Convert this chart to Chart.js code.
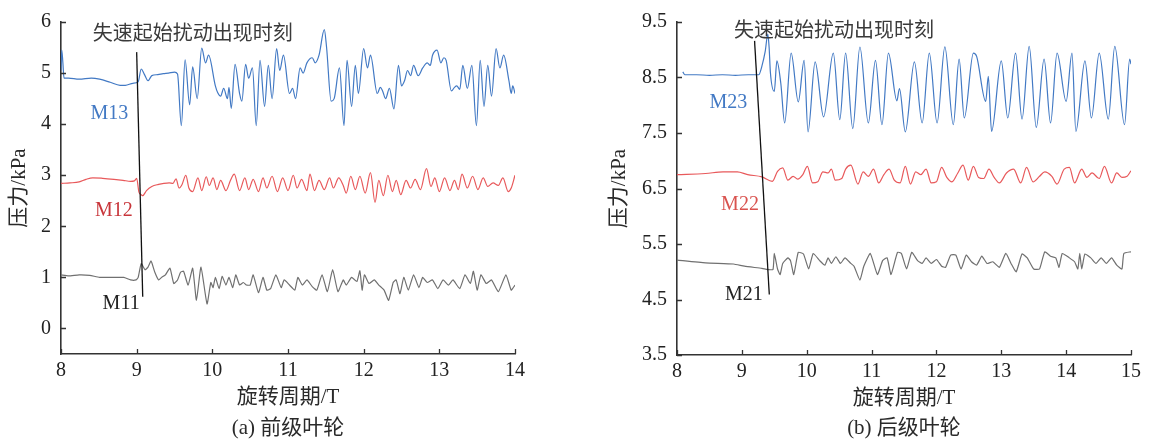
<!DOCTYPE html>
<html><head><meta charset="utf-8">
<script src="https://cdn.jsdelivr.net/npm/chart.js@4.4.0/dist/chart.umd.min.js"></script>
<style>
html,body{margin:0;padding:0;background:#fff;width:1149px;height:441px;overflow:hidden;}
#wrap{position:relative;width:1149px;height:441px;}
canvas{position:absolute;top:0;}
.cap{position:absolute;font:21px "Liberation Serif","Noto Sans CJK SC",serif;color:#2a2a2a;white-space:nowrap;transform:translate(-50%,-50%);}
</style></head><body>
<div id="wrap">
<canvas id="c1" width="575" height="441" style="left:0;width:575px;height:441px"></canvas>
<canvas id="c2" width="549" height="441" style="left:600px;width:549px;height:441px"></canvas>
<div class="cap" style="left:288px;top:425px">(a) 前级叶轮</div>
<div class="cap" style="left:904px;top:425px">(b) 后级叶轮</div>
</div>
<script>
// ---------- Panel (a) front impeller ----------
const aXTicks = [8, 9, 10, 11, 12, 13, 14];
const aYTicks = [0, 1, 2, 3, 4, 5, 6];

const m13X = [8.00,8.01,8.025,8.04,8.10,8.24,8.40,8.51,8.65,8.78,8.85,8.95,9.02,9.06,9.10,9.15,9.20,9.28,9.35,9.42,9.50,9.54,9.59,9.64,9.70,9.74,9.80,9.86,9.91,9.95,10.04,10.07,10.11,10.15,10.20,10.22,10.25,10.30,10.36,10.39,10.44,10.48,10.53,10.58,10.63,10.69,10.74,10.79,10.85,10.89,10.94,11.02,11.06,11.10,11.16,11.20,11.25,11.32,11.36,11.41,11.48,11.51,11.57,11.61,11.68,11.74,11.78,11.84,11.89,11.93,12.00,12.05,12.09,12.18,12.22,12.25,12.29,12.34,12.40,12.46,12.50,12.54,12.58,12.62,12.66,12.72,12.78,12.84,12.88,12.91,12.97,13.02,13.06,13.09,13.16,13.20,13.23,13.27,13.31,13.37,13.43,13.49,13.54,13.59,13.64,13.69,13.75,13.80,13.85,13.92,13.95,13.97,14.00];
const m13Y = [5.05,5.45,5.2,4.9,4.9,4.88,4.9,4.88,4.82,4.76,4.76,4.8,4.83,5.08,4.98,4.85,4.95,4.97,4.99,5.0,5.02,4.98,3.97,5.26,4.38,5.12,4.5,5.49,5.2,5.35,4.75,4.62,4.55,4.7,4.5,4.72,4.31,5.17,4.6,4.45,5.17,4.9,5.1,3.97,5.25,4.35,5.15,4.5,5.48,5.05,5.35,4.6,4.7,4.5,5.1,5.0,5.2,5.3,5.2,5.35,5.85,5.5,4.45,4.5,5.1,3.97,5.25,4.35,5.15,4.6,5.48,5.1,5.35,4.6,4.72,4.65,4.5,4.7,4.3,5.15,4.75,4.85,5.05,4.95,5.15,4.95,5.1,5.2,5.15,5.35,5.45,5.2,5.3,5.25,4.65,4.72,4.75,4.68,5.15,4.7,5.15,3.97,5.25,4.35,5.15,4.55,5.48,5.1,5.35,4.85,4.6,4.75,4.6];

const m12X = [8.00,8.12,8.24,8.33,8.42,8.55,8.70,8.82,8.92,8.97,9.00,9.03,9.06,9.08,9.13,9.20,9.29,9.36,9.43,9.48,9.52,9.56,9.60,9.65,9.69,9.74,9.81,9.86,9.92,9.96,10.01,10.06,10.11,10.18,10.24,10.29,10.36,10.43,10.48,10.54,10.61,10.67,10.72,10.79,10.86,10.93,11.00,11.07,11.12,11.18,11.25,11.29,11.35,11.41,11.48,11.55,11.60,11.67,11.73,11.77,11.83,11.89,11.95,12.02,12.09,12.15,12.20,12.26,12.32,12.38,12.43,12.49,12.56,12.62,12.68,12.75,12.83,12.89,12.94,13.00,13.07,13.14,13.20,13.25,13.30,13.37,13.44,13.51,13.58,13.64,13.71,13.78,13.84,13.91,13.95,14.00];
const m12Y = [2.84,2.85,2.87,2.92,2.95,2.94,2.92,2.9,2.88,2.89,2.94,2.67,2.62,2.6,2.7,2.78,2.82,2.84,2.85,2.84,2.93,2.75,2.82,3.0,2.75,2.68,2.95,2.7,2.97,2.8,2.95,2.72,2.9,2.7,2.9,3.02,2.7,2.95,2.72,2.92,2.68,2.95,2.75,2.98,2.68,2.95,2.7,3.0,2.75,2.92,2.7,3.02,2.7,2.9,2.72,2.95,2.75,2.95,2.8,2.65,2.98,2.72,2.98,2.65,3.05,2.47,2.9,2.6,3.0,2.68,2.9,2.62,2.9,2.75,2.92,2.72,3.13,2.78,2.95,2.68,2.95,2.7,2.9,2.72,3.02,2.75,2.98,2.72,2.95,2.78,2.85,2.8,2.95,2.68,2.75,3.0];

const m11X = [8.00,8.10,8.24,8.38,8.51,8.70,8.83,8.92,8.99,9.02,9.06,9.11,9.15,9.19,9.24,9.29,9.33,9.38,9.44,9.49,9.54,9.58,9.62,9.68,9.74,9.79,9.85,9.93,9.98,10.01,10.04,10.09,10.13,10.18,10.22,10.27,10.31,10.36,10.41,10.45,10.50,10.54,10.61,10.67,10.72,10.77,10.84,10.91,10.95,11.02,11.09,11.13,11.19,11.25,11.32,11.38,11.45,11.52,11.59,11.66,11.73,11.77,11.84,11.91,11.95,11.98,12.01,12.07,12.14,12.20,12.27,12.33,12.39,12.43,12.48,12.53,12.59,12.66,12.73,12.78,12.84,12.91,12.98,13.05,13.12,13.18,13.27,13.34,13.41,13.45,13.50,13.55,13.62,13.69,13.78,13.88,13.95,14.00];
const m11Y = [1.05,1.03,1.05,1.04,1.0,1.0,1.0,0.95,0.95,1.0,1.27,1.15,1.2,1.32,1.1,0.95,1.0,1.05,1.18,0.88,0.95,1.1,1.12,0.85,1.18,0.55,1.2,0.48,0.9,0.8,1.0,0.78,1.02,0.85,1.0,0.8,1.05,0.85,0.9,0.85,0.85,1.05,0.7,1.0,0.75,0.78,1.05,0.8,0.95,0.85,0.75,1.0,0.85,0.95,0.82,0.75,1.05,0.72,1.15,0.72,0.95,0.85,1.0,0.92,1.13,0.75,1.05,0.88,0.95,0.85,0.75,0.55,0.9,0.95,0.68,1.0,0.75,1.05,0.8,1.0,0.9,0.95,0.78,0.95,0.85,0.95,0.78,1.05,0.88,1.12,0.75,1.05,0.88,0.95,0.72,1.05,0.75,0.85];

// ---------- Panel (b) rear impeller ----------
const bXTicks = [8, 9, 10, 11, 12, 13, 14, 15];
const bYTicks = [3.5, 4.5, 5.5, 6.5, 7.5, 8.5, 9.5];

const m23X = [8.09,8.12,8.30,8.50,8.70,8.90,9.10,9.26,9.31,9.36,9.40,9.42,9.44,9.50,9.54,9.60,9.66,9.76,9.87,9.96,10.02,10.13,10.26,10.41,10.51,10.60,10.71,10.82,10.95,11.06,11.16,11.26,11.39,11.43,11.52,11.66,11.78,11.89,12.01,12.13,12.26,12.35,12.43,12.57,12.62,12.76,12.80,12.85,13.00,13.10,13.22,13.32,13.43,13.54,13.66,13.76,13.86,14.00,14.09,14.15,14.29,14.39,14.51,14.65,14.75,14.90,14.98,15.00];
const m23Y = [8.60,8.55,8.55,8.54,8.55,8.54,8.55,8.55,8.71,8.97,9.28,9.05,8.59,8.25,8.8,8.4,7.68,8.94,8.06,8.81,7.52,8.78,7.79,8.94,7.74,8.94,7.58,9.05,7.68,8.81,7.65,8.94,8.08,8.3,7.52,8.78,7.68,8.94,7.68,9.05,7.65,8.83,7.77,8.94,8.88,8.07,8.52,7.53,8.80,7.77,8.94,7.75,9.06,7.60,8.83,7.68,8.94,8.07,8.94,7.53,8.80,7.77,8.94,7.75,9.06,7.65,8.83,8.74];

const m22X = [8.00,8.44,8.71,8.93,9.09,9.31,9.47,9.55,9.63,9.71,9.79,9.86,9.94,10.01,10.09,10.17,10.25,10.33,10.38,10.44,10.54,10.60,10.68,10.79,10.87,10.95,11.03,11.11,11.19,11.27,11.35,11.44,11.52,11.60,11.68,11.76,11.84,11.92,12.00,12.08,12.16,12.24,12.33,12.41,12.49,12.57,12.65,12.73,12.81,12.89,12.97,13.08,13.19,13.30,13.39,13.49,13.59,13.67,13.78,13.86,13.97,14.05,14.13,14.24,14.32,14.40,14.51,14.59,14.70,14.78,14.86,14.94,15.00];
const m22Y = [6.75,6.77,6.80,6.80,6.75,6.71,6.63,6.81,6.87,6.65,6.72,6.67,6.75,6.9,6.6,6.62,6.8,6.78,6.85,6.65,6.68,6.85,6.92,6.58,6.8,6.72,6.85,6.6,6.75,6.85,6.65,6.6,6.9,6.58,6.8,6.75,6.85,6.6,6.62,6.88,6.7,6.62,6.78,6.92,6.65,6.9,6.7,6.68,6.85,6.7,6.6,6.78,6.85,6.6,6.88,6.62,6.72,6.8,6.72,6.58,6.85,6.88,6.6,6.85,6.7,6.78,6.68,6.9,6.6,6.78,6.7,6.72,6.82];

const m21X = [8.00,8.44,8.87,9.04,9.31,9.40,9.48,9.50,9.55,9.59,9.63,9.71,9.75,9.80,9.87,9.95,10.03,10.10,10.20,10.28,10.33,10.38,10.45,10.52,10.59,10.68,10.73,10.82,10.88,10.98,11.09,11.17,11.24,11.30,11.40,11.46,11.54,11.62,11.71,11.78,11.84,11.92,12.00,12.08,12.14,12.22,12.30,12.38,12.46,12.54,12.62,12.70,12.78,12.87,12.97,13.07,13.15,13.23,13.32,13.40,13.50,13.59,13.67,13.76,13.84,13.89,13.94,14.05,14.13,14.18,14.21,14.24,14.29,14.38,14.46,14.54,14.62,14.70,14.78,14.86,14.89,15.00];
const m21Y = [5.21,5.16,5.14,5.10,5.06,5.04,5.04,5.33,5.05,4.95,5.15,5.25,5.2,4.95,5.35,5.32,5.05,5.33,5.2,5.12,5.25,5.15,5.27,5.15,5.25,5.15,5.1,4.85,5.1,5.33,4.95,5.2,5.25,4.95,5.35,5.33,5.05,5.35,5.2,5.15,5.25,5.15,5.22,5.1,5.08,5.3,5.3,5.05,5.3,5.18,5.12,5.28,5.15,5.18,5.08,5.33,5.15,5.0,5.32,5.25,5.05,5.05,5.36,5.28,5.25,5.08,5.33,5.25,5.18,5.05,5.33,5.05,5.32,5.25,5.15,5.25,5.15,5.25,5.12,5.05,5.33,5.36];

// ---------- helpers ----------
const BLUE = '#4279c4', RED = '#e8595b', GRAY = '#707070';
const SERIF = "'Liberation Serif', 'Noto Sans CJK SC', serif";
const pts = (xs, ys) => xs.map((x, i) => ({x: x, y: ys[i]}));

const decor = {
  id: 'decor',
  afterDraw(chart, args, o) {
    const ctx = chart.ctx, xs = chart.scales.x, ys = chart.scales.y;
    ctx.save();
    ctx.strokeStyle = '#333'; ctx.lineWidth = 1.3;
    ctx.beginPath();
    o.xTicks.forEach(v => { const p = Math.round(xs.getPixelForValue(v)) + 0.5; ctx.moveTo(p, ys.bottom); ctx.lineTo(p, ys.bottom - 5); });
    o.yTicks.forEach(v => { const p = Math.round(ys.getPixelForValue(v)) + 0.5; ctx.moveTo(xs.left, p); ctx.lineTo(xs.left + 5, p); });
    ctx.stroke();
    ctx.strokeStyle = '#111'; ctx.lineWidth = 1.3;
    ctx.beginPath();
    ctx.moveTo(xs.getPixelForValue(o.line[0]), ys.getPixelForValue(o.line[1]));
    ctx.lineTo(xs.getPixelForValue(o.line[2]), ys.getPixelForValue(o.line[3]));
    ctx.stroke();
    ctx.textAlign = 'left'; ctx.textBaseline = 'middle';
    o.labels.forEach(l => {
      ctx.font = l.font; ctx.fillStyle = l.color;
      ctx.fillText(l.text, xs.getPixelForValue(l.x), ys.getPixelForValue(l.y));
    });
    ctx.restore();
  }
};

function makeChart(id, cfg) {
  const tickFont = {family: SERIF, size: 20};
  const titleFont = {family: SERIF, size: 21};
  return new Chart(document.getElementById(id), {
    type: 'line',
    data: { datasets: cfg.sets.map(s => ({
      data: pts(s.x, s.y), borderColor: s.color, borderWidth: 1.2, pointRadius: 0,
      fill: false, tension: s.tension, cubicInterpolationMode: s.mono ? 'monotone' : 'default'
    })) },
    options: {
      responsive: false, animation: false, devicePixelRatio: 1,
      layout: { padding: cfg.padding },
      plugins: { legend: {display: false}, tooltip: {enabled: false}, decor: cfg.decor },
      scales: {
        x: {
          type: 'linear', min: cfg.xMin, max: cfg.xMax,
          grid: {display: false, drawTicks: false},
          border: {display: true, color: '#333', width: 1.6},
          ticks: {font: tickFont, color: '#222', padding: 5, maxRotation: 0, autoSkip: false},
          afterBuildTicks: s => { s.ticks = cfg.xTicks.map(v => ({value: v})); },
          afterFit: s => { s.height = 60; },
          title: {display: true, text: '旋转周期/T', font: titleFont, color: '#2a2a2a', padding: {top: 0, bottom: 4}}
        },
        y: {
          type: 'linear', min: cfg.yMin, max: cfg.yMax,
          grid: {display: false, drawTicks: false},
          border: {display: true, color: '#333', width: 1.6},
          ticks: {font: tickFont, color: '#222', padding: 10, autoSkip: false},
          afterBuildTicks: s => { s.ticks = cfg.yTicks.map(v => ({value: v})); },
          afterFit: s => { s.width = cfg.yWidth; },
          title: {display: true, text: '压力/kPa', font: titleFont, color: '#2a2a2a', padding: {top: 7, bottom: 0}}
        }
      }
    },
    plugins: [decor]
  });
}

const labelFont = "20px " + SERIF;
const noteFont = "20px 'Noto Sans CJK SC', sans-serif";

makeChart('c1', {
  padding: {left: 0, top: 16, right: 60, bottom: 27},
  yWidth: 61, xMin: 8, xMax: 14, yMin: -0.5, yMax: 6, xTicks: aXTicks, yTicks: aYTicks,
  sets: [
    {x: m13X, y: m13Y, color: BLUE, tension: 0.4, mono: true},
    {x: m12X, y: m12Y, color: RED, tension: 0.3, mono: true},
    {x: m11X, y: m11Y, color: GRAY, tension: 0.15, mono: false}
  ],
  decor: {
    xTicks: aXTicks, yTicks: aYTicks,
    line: [9.0, 5.41, 9.08, 0.62],
    labels: [
      {text: '失速起始扰动出现时刻', x: 8.42, y: 5.79, font: noteFont, color: '#3a3a3a'},
      {text: 'M13', x: 8.39, y: 4.21, font: labelFont, color: BLUE},
      {text: 'M12', x: 8.45, y: 2.31, font: labelFont, color: '#c8353a'},
      {text: 'M11', x: 8.55, y: 0.48, font: labelFont, color: '#222'}
    ]
  }
});

makeChart('c2', {
  padding: {left: 0, top: 15, right: 18, bottom: 26},
  yWidth: 77, xMin: 8, xMax: 15, yMin: 3.5, yMax: 9.5, xTicks: bXTicks, yTicks: bYTicks,
  sets: [
    {x: m23X, y: m23Y, color: BLUE, tension: 0.4, mono: true},
    {x: m22X, y: m22Y, color: RED, tension: 0.3, mono: true},
    {x: m21X, y: m21Y, color: GRAY, tension: 0.15, mono: false}
  ],
  decor: {
    xTicks: bXTicks, yTicks: bYTicks,
    line: [9.196, 9.16, 9.423, 4.59],
    labels: [
      {text: '失速起始扰动出现时刻', x: 8.88, y: 9.36, font: noteFont, color: '#3a3a3a'},
      {text: 'M23', x: 8.50, y: 8.05, font: labelFont, color: BLUE},
      {text: 'M22', x: 8.68, y: 6.20, font: labelFont, color: '#d9534f'},
      {text: 'M21', x: 8.74, y: 4.58, font: labelFont, color: '#222'}
    ]
  }
});
</script>
</body></html>
